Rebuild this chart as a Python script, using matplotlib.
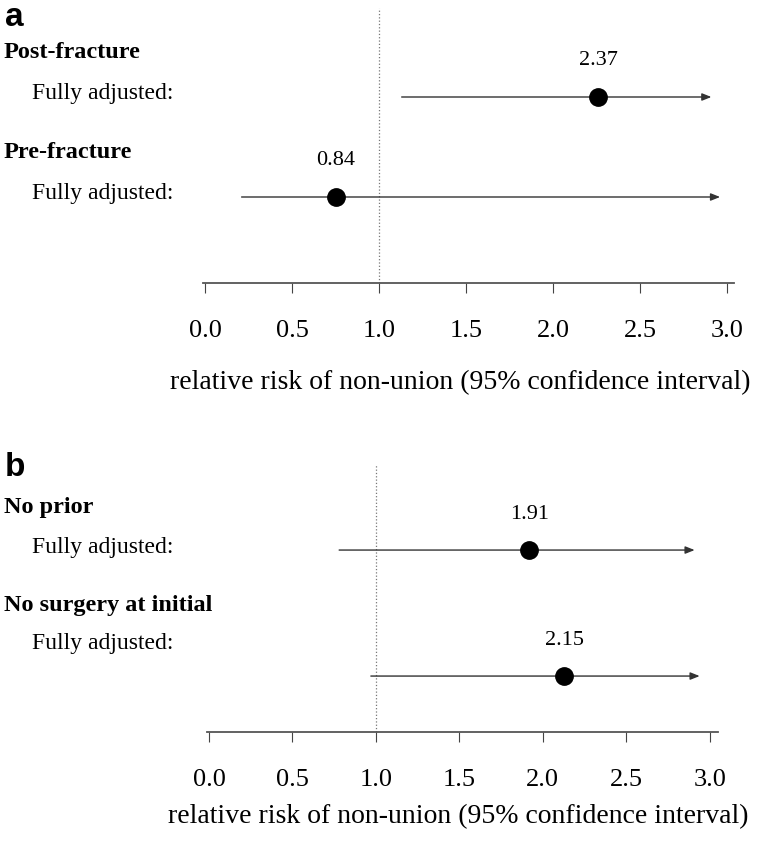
import matplotlib
matplotlib.use('Agg')
import matplotlib.pyplot as plt

plt.rcParams['font.family'] = ['Liberation Serif', 'DejaVu Serif']

# panel a
groups_a = ['Post-fracture', 'Pre-fracture']
rr_text_a = ['2.37', '0.84']
rr_a = [2.26, 0.75]
low_a = [1.13, 0.21]
high_a = [2.91, 2.96]

# panel b
groups_b = ['No prior', 'No surgery at initial']
rr_text_b = ['1.91', '2.15']
rr_b = [1.92, 2.13]
low_b = [0.78, 0.97]
high_b = [2.91, 2.94]

sub_label = 'Fully adjusted:'
ticks = [0.0, 0.5, 1.0, 1.5, 2.0, 2.5, 3.0]
tick_labels = ['0.0', '0.5', '1.0', '1.5', '2.0', '2.5', '3.0']
xlabel = 'relative risk of non-union (95% confidence interval)'

W, H = 766, 849
fig = plt.figure(figsize=(W / 100, H / 100), dpi=100)


def fx(x):
    return x / W


def fy(y):
    return 1 - y / H


def panel(box, xlim, ylim, rr, lo, hi, rr_text, xlab_pos):
    left, right, top, bottom = box
    ax = fig.add_axes([fx(left), fy(bottom), (right - left) / W, (bottom - top) / H])
    ax.set_xlim(*xlim)
    ax.set_ylim(*ylim)
    rows = list(range(len(rr)))
    ax.axvline(1.0, color='#777777', ls=':', lw=0.9)
    for r, l, h in zip(rows, lo, hi):
        ax.annotate('', xy=(h, r), xytext=(l, r),
                    arrowprops=dict(arrowstyle='-|>,head_length=0.55,head_width=0.22',
                                    color='#333333', lw=1.0, shrinkA=0, shrinkB=0))
    ax.plot(rr, rows, 'o', ms=12.5, color='black', zorder=3)
    for r, v, t in zip(rows, rr, rr_text):
        ax.annotate(t, (v, r), xytext=(0, 36), textcoords='offset pixels',
                    ha='center', va='center', fontsize=16)
    for s in ['top', 'left', 'right']:
        ax.spines[s].set_visible(False)
    ax.spines['bottom'].set_color('#555555')
    ax.spines['bottom'].set_linewidth(1.3)
    ax.set_yticks([])
    ax.set_xticks(ticks)
    ax.set_xticklabels(tick_labels)
    ax.tick_params(axis='x', direction='out', length=7.5, width=0.8,
                   color='#444444', labelsize=19, pad=19)
    ax.set_xlabel(xlabel, fontsize=20, va='center')
    ax.xaxis.set_label_coords(*xlab_pos)
    return ax


panel((203.3, 734, 8, 283), (-0.01, 3.04), (1.86, -0.89),
      rr_a, low_a, high_a, rr_text_a, (0.484, -(383 - 283) / 275))
panel((207.3, 718, 465, 732), (-0.01, 3.05), (1.444, -0.675),
      rr_b, low_b, high_b, rr_text_b, (0.491, -(817 - 732) / 267))

# panel letters and row labels
fig.text(fx(5), fy(18), 'a', fontsize=24, fontweight='bold', family='Liberation Sans',
         ha='left', va='center')
fig.text(fx(5), fy(467), 'b', fontsize=24, fontweight='bold', family='Liberation Sans',
         ha='left', va='center')

for g, yh, ys in zip(groups_a, [52, 153], [93, 193]):
    fig.text(fx(4), fy(yh), g, fontsize=17.5, fontweight='bold', ha='left', va='center')
    fig.text(fx(32), fy(ys), sub_label, fontsize=17, ha='left', va='center')
for g, yh, ys in zip(groups_b, [508, 605], [548, 643]):
    fig.text(fx(4), fy(yh), g, fontsize=17.5, fontweight='bold', ha='left', va='center')
    fig.text(fx(32), fy(ys), sub_label, fontsize=17, ha='left', va='center')

fig.savefig('out.png', dpi=100)
